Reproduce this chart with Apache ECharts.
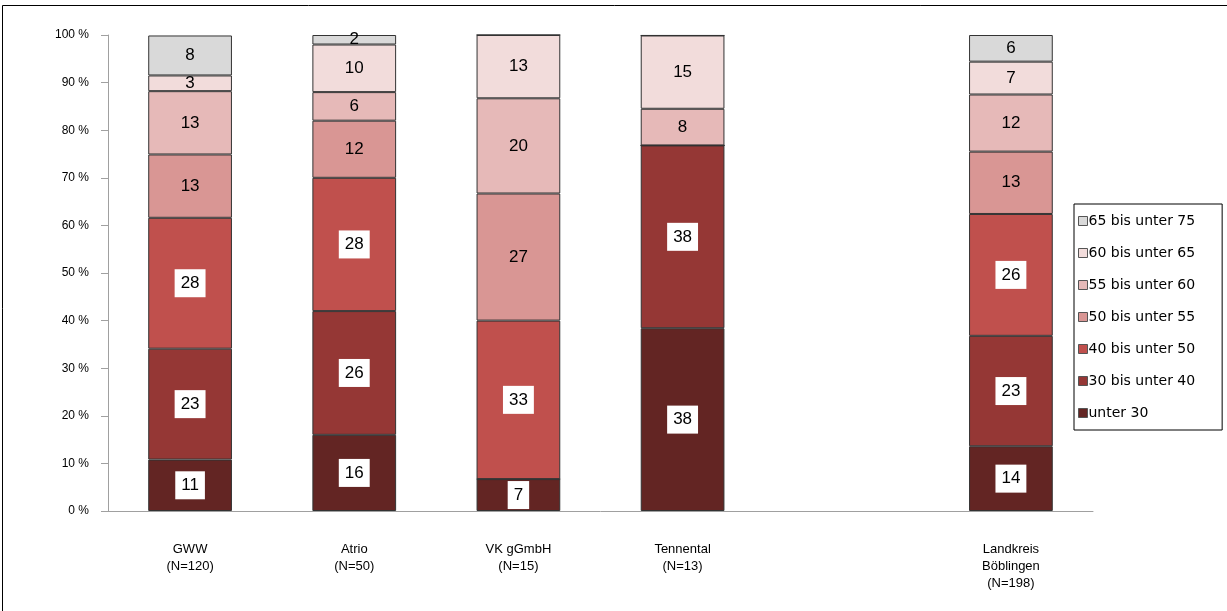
<!DOCTYPE html>
<html>
<head>
<meta charset="utf-8">
<script src="https://cdn.jsdelivr.net/npm/echarts@6/dist/echarts.min.js"></script>
<style>
html,body{margin:0;padding:0;background:#fff;}
#c{width:1227px;height:611px;}
</style>
</head>
<body>
<div id="c"></div>
<script>
const categories = ['GWW\n(N=120)', 'Atrio\n(N=50)', 'VK gGmbH\n(N=15)', 'Tennental\n(N=13)', '', 'Landkreis\nBöblingen\n(N=198)'];
const seriesNames = ['unter 30', '30 bis unter 40', '40 bis unter 50', '50 bis unter 55', '55 bis unter 60', '60 bis unter 65', '65 bis unter 75'];
const colors = ['#632523', '#953735', '#c0504d', '#d99694', '#e6b9b8', '#f2dcdb', '#d9d9d9'];
// percentages per category (empty slot = null)
const unter30   = [10.8, 16, 6.7, 38.4, null, 13.6];
const u30bis40  = [23.3, 26, 0, 38.4, null, 23.2];
const u40bis50  = [27.5, 28, 33.3, 0, null, 25.6];
const u50bis55  = [13.3, 12, 26.7, 0, null, 13.1];
const u55bis60  = [13.3, 6, 20, 7.7, null, 12.0];
const u60bis65  = [3.3, 10, 13.3, 15.4, null, 6.9];
const u65bis75  = [8.4, 2, 0, 0, null, 5.6];
const yTicks = [0, 10, 20, 30, 40, 50, 60, 70, 80, 90, 100];

const seriesData = [unter30, u30bis40, u40bis50, u50bis55, u55bis60, u60bis65, u65bis75];
const font = '"Liberation Sans", Arial, sans-serif';

const chart = echarts.init(document.getElementById('c'), null, {renderer: 'canvas'});
const series = seriesNames.map((name, i) => ({
  name: name,
  type: 'bar',
  stack: 'total',
  barWidth: '51%',
  data: seriesData[i].map(v => (v === 0 ? {value: 0, label: {show: false}} : v)),
  itemStyle: {color: colors[i], borderColor: '#333', borderWidth: 1},
  label: {
    show: true,
    position: 'inside',
    fontFamily: font,
    fontSize: 17,
    color: '#000',
    backgroundColor: i < 3 ? '#fff' : 'transparent',
    padding: i < 3 ? [6, 6, 5, 6] : 0,
    formatter: p => String(Math.round(p.value))
  },
  emphasis: {disabled: true}
}));

chart.setOption({
  animation: false,
  backgroundColor: '#fff',
  grid: {left: 108, right: 134, top: 35, bottom: 100, containLabel: false},
  legend: {
    orient: 'vertical',
    left: 1074, top: 204,
    data: seriesNames.slice().reverse(),
    itemWidth: 9, itemHeight: 9,
    itemGap: 18,
    padding: [10, 27, 10, 4],
    borderColor: '#000', borderWidth: 1,
    icon: 'rect',
    itemStyle: {borderColor: '#555', borderWidth: 1},
    textStyle: {fontFamily: '"DejaVu Sans", sans-serif', fontSize: 14, color: '#000', padding: [0, 0, 0, -4]}
  },
  xAxis: {
    type: 'category',
    data: categories,
    axisLine: {lineStyle: {color: '#a0a0a0', width: 1}},
    axisTick: {show: false},
    axisLabel: {fontFamily: font, fontSize: 13, color: '#000', lineHeight: 17, margin: 30, interval: 0}
  },
  yAxis: {
    type: 'value',
    min: 0, max: 100, interval: 10,
    axisLine: {show: true, lineStyle: {color: '#a0a0a0'}},
    axisTick: {show: true, inside: false, length: 7, lineStyle: {color: '#a0a0a0'}},
    splitLine: {show: false},
    axisLabel: {fontFamily: font, fontSize: 12, color: '#000', margin: 19,
      formatter: v => (yTicks.indexOf(v) >= 0 ? v + ' %' : '')}
  },
  graphic: [
    {type: 'line', shape: {x1: 2.5, y1: 5.5, x2: 1227, y2: 5.5}, style: {stroke: '#000', lineWidth: 1}},
    {type: 'line', shape: {x1: 2.5, y1: 5.5, x2: 2.5, y2: 611}, style: {stroke: '#000', lineWidth: 1}}
  ],
  series: series
});
</script>
</body>
</html>
